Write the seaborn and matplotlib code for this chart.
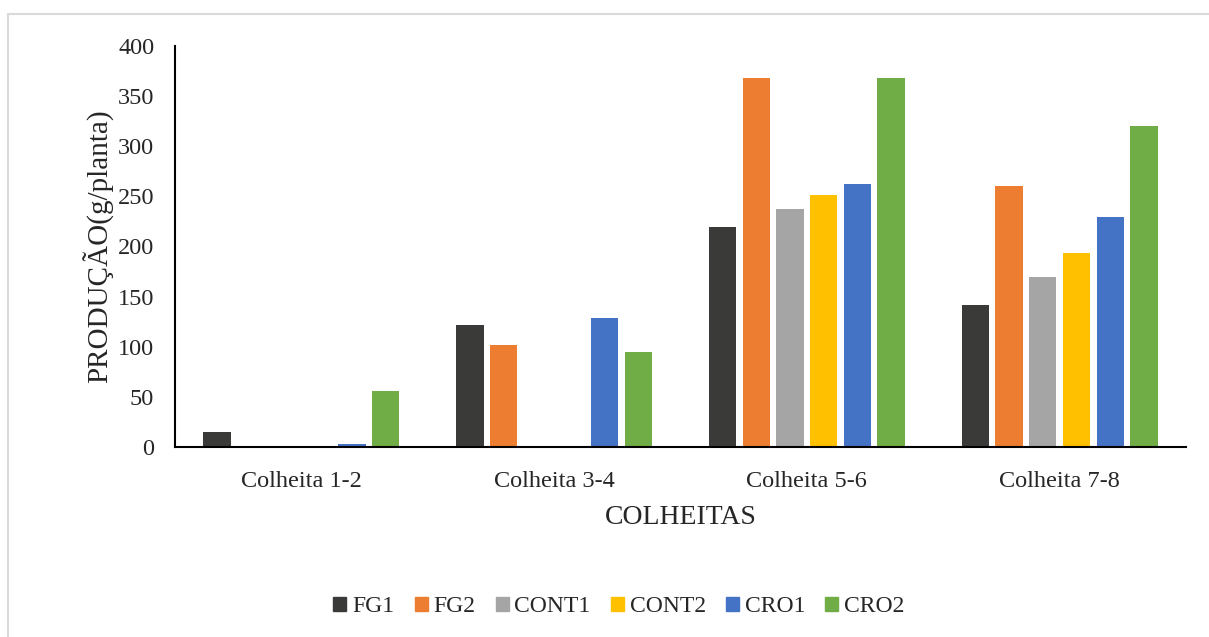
import matplotlib.pyplot as plt
import matplotlib.patches as mpatches
import seaborn as sns
import pandas as pd

# dados
colheitas = ['Colheita 1-2', 'Colheita 3-4', 'Colheita 5-6', 'Colheita 7-8']
tratamentos = ['FG1', 'FG2', 'CONT1', 'CONT2', 'CRO1', 'CRO2']
fg1 = [15, 122, 219, 142]
fg2 = [0, 102, 368, 260]
cont1 = [0, 0, 237, 170]
cont2 = [0, 0, 251, 194]
cro1 = [3, 129, 262, 229]
cro2 = [56, 95, 368, 320]
cores = ['#3a3a38', '#ed7d31', '#a5a5a5', '#ffc000', '#4472c4', '#70ad47']

series = [fg1, fg2, cont1, cont2, cro1, cro2]
rows = []
for t, vals in zip(tratamentos, series):
    for c, v in zip(colheitas, vals):
        rows.append({'Colheita': c, 'Tratamento': t, 'Valor': v})
df = pd.DataFrame(rows)

sns.set_theme(style="white")
plt.rcParams['font.family'] = ['Liberation Serif', 'DejaVu Serif']

fig = plt.figure(figsize=(12.09, 6.37), dpi=100)
ax = fig.add_axes([175 / 1209, 1 - 447 / 637, (1186 - 175) / 1209, (447 - 46) / 637])

sns.barplot(data=df, x='Colheita', y='Valor', hue='Tratamento',
            palette=cores, saturation=1, width=0.8, gap=0.19, ax=ax,
            legend=False, linewidth=0, edgecolor='white')

ax.set_ylim(0, 400)
ax.set_yticks(range(0, 401, 50))
ax.set_xlim(-0.5, 3.5)
ax.set_ylabel('PRODUÇÃO(g/planta)', fontsize=21, labelpad=2.5)
ax.set_xlabel('COLHEITAS', fontsize=20, labelpad=10)
ax.tick_params(axis='y', labelsize=17.5, length=0, pad=15)
ax.tick_params(axis='x', labelsize=17.5, length=0, pad=17)
for s in ['top', 'right']:
    ax.spines[s].set_visible(False)
ax.spines['left'].set_color('black')
ax.spines['left'].set_linewidth(1.5)
ax.spines['bottom'].set_color('black')
ax.spines['bottom'].set_linewidth(1.5)

handles = [mpatches.Patch(color=c, label=t) for t, c in zip(tratamentos, cores)]
fig.legend(handles=handles, loc='center', bbox_to_anchor=(0.512, 1 - 607 / 637),
           ncol=6, frameon=False, fontsize=17, handlelength=0.55, handleheight=0.55,
           handletextpad=0.25, columnspacing=0.85)

# moldura cinza clara
fig.add_artist(mpatches.Rectangle((8 / 1209, -0.05), 1.1, 1.05 - 14 / 637,
                                  transform=fig.transFigure, fill=False,
                                  edgecolor='#d9d9d9', linewidth=1.5))

fig.savefig('out.png', dpi=100)
